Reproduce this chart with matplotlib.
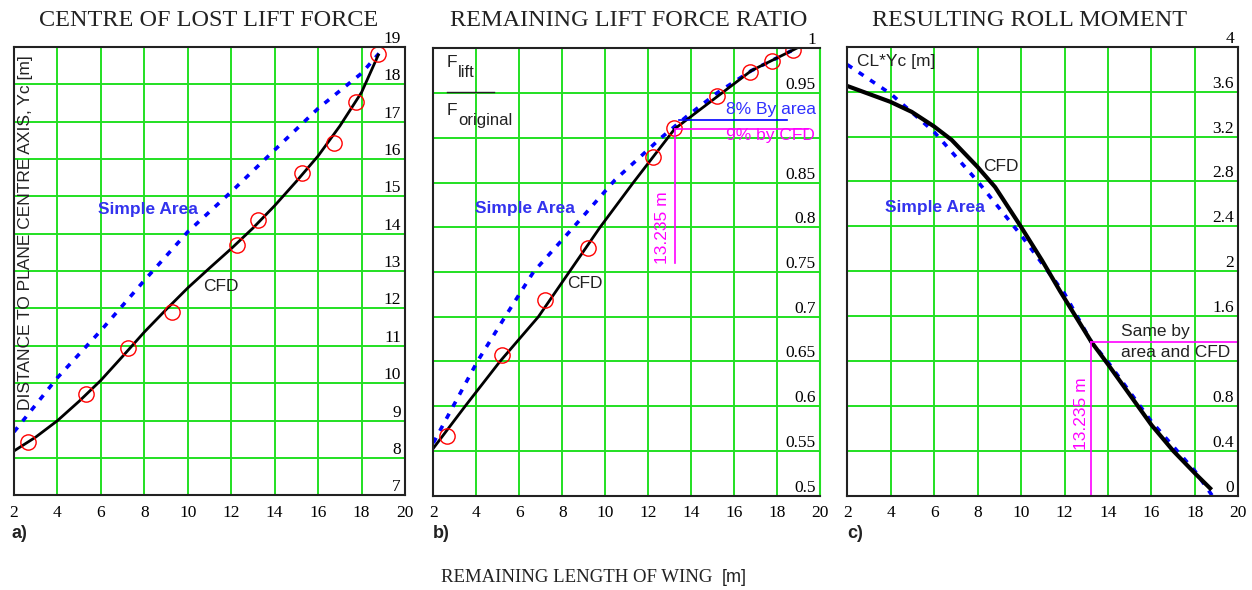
import matplotlib
matplotlib.use('Agg')
import matplotlib.pyplot as plt

# panel a) centre of lost lift force
a_cfd_x = [2, 3, 4, 5, 6, 7, 8, 9, 10, 11, 12, 13, 14, 15, 16, 17, 18, 18.77]
a_cfd_y = [8.19, 8.56, 9.0, 9.52, 10.08, 10.72, 11.37, 11.97, 12.55, 13.08, 13.6,
           14.15, 14.75, 15.4, 16.08, 16.88, 17.78, 18.78]
a_area_x = [2, 4, 6, 8, 10, 12, 14, 16, 18, 18.8]
a_area_y = [8.7, 10.15, 11.41, 12.75, 14.05, 15.12, 16.24, 17.35, 18.29, 18.82]
a_pts_x = [2.66, 5.30, 7.24, 9.28, 12.25, 13.25, 15.27, 16.75, 17.73, 18.77]
a_pts_y = [8.43, 9.72, 10.93, 11.9, 13.70, 14.37, 15.63, 16.43, 17.53, 18.8]
a_yticks = [7, 8, 9, 10, 11, 12, 13, 14, 15, 16, 17, 18, 19]

# panel b) remaining lift force ratio
b_cfd_x = [2, 3.48, 5.1, 6.89, 9.76, 11.31, 13.235, 15.43, 16.8, 18.9]
b_cfd_y = [0.553, 0.6, 0.65, 0.7, 0.8, 0.85, 0.91, 0.95, 0.975, 1.0]
b_area_x = [2, 4.05, 5.34, 6.66, 8.52, 10.46, 12.6, 13.8, 15.2, 16.8, 18.9]
b_area_y = [0.559, 0.65, 0.7, 0.75, 0.8, 0.853, 0.9, 0.924, 0.95, 0.975, 1.0]
b_pts_x = [2.62, 5.21, 7.2, 9.22, 12.24, 13.21, 15.19, 16.74, 17.75, 18.73]
b_pts_y = [0.567, 0.657, 0.719, 0.777, 0.879, 0.911, 0.947, 0.974, 0.986, 0.998]
b_yticks = [0.5, 0.55, 0.6, 0.65, 0.7, 0.75, 0.8, 0.85, 0.9, 0.95, 1.0]
b_ylabels = ['0.5', '0.55', '0.6', '0.65', '0.7', '0.75', '0.8', '0.85', '', '0.95', '1']

# panel c) resulting roll moment
c_cfd_x = [2, 3.97, 4.96, 5.99, 6.8, 7.99, 8.8, 9.98, 10.95, 11.8, 13.235, 14, 15, 16, 17, 18, 18.7]
c_cfd_y = [3.65, 3.51, 3.42, 3.29, 3.17, 2.93, 2.75, 2.40, 2.10, 1.82, 1.37, 1.17, 0.9,
           0.63, 0.4, 0.2, 0.066]
c_area_x = [2, 4, 6, 8, 10, 12, 13.235, 14, 16, 18, 18.8]
c_area_y = [3.84, 3.58, 3.24, 2.80, 2.32, 1.80, 1.37, 1.19, 0.66, 0.22, 0.0]
c_yticks = [0, 0.4, 0.8, 1.2, 1.6, 2.0, 2.4, 2.8, 3.2, 3.6, 4.0]
c_ylabels = ['0', '0.4', '0.8', '', '1.6', '2', '2.4', '2.8', '3.2', '3.6', '4']

x_cut = 13.235
b_area_cut = 0.92
b_cfd_cut = 0.91
c_cut = 1.37

xticks = [2, 4, 6, 8, 10, 12, 14, 16, 18, 20]

GREEN = '#22e022'
BLUE = '#0000ff'
MAG = '#ff00ff'
INK = '#222222'
SERIF = 'Liberation Serif'
SANS = 'Liberation Sans'

fig = plt.figure(figsize=(12.52, 5.90), dpi=100)
ax_a = fig.add_axes([0.0112, 0.1603, 0.3123, 0.7605])
ax_b = fig.add_axes([0.3461, 0.1598, 0.3089, 0.7583])
ax_c = fig.add_axes([0.6768, 0.1598, 0.3123, 0.7610])


def setup(ax, ylim, yticks, ylabels):
    ax.set_xlim(2, 20)
    ax.set_ylim(*ylim)
    ax.set_xticks(xticks)
    ax.set_xticklabels([str(t) for t in xticks], fontfamily=SERIF, fontsize=12.5)
    ax.set_yticks(yticks)
    ax.set_yticklabels(ylabels, fontfamily=SERIF, fontsize=12.5)
    ax.yaxis.set_ticks_position('right')
    ax.tick_params(axis='y', length=0, pad=-3)
    ax.tick_params(axis='x', length=0, pad=7)
    for lab in ax.get_yticklabels():
        lab.set_ha('right')
        lab.set_va('bottom')
    ax.grid(True, color=GREEN, lw=1.4)
    ax.set_axisbelow(True)
    for s in ax.spines.values():
        s.set_linewidth(1.5)
        s.set_color(INK)


setup(ax_a, (7, 19), a_yticks, [str(t) for t in a_yticks])
setup(ax_b, (0.5, 1.0), b_yticks, b_ylabels)
setup(ax_c, (0, 4), c_yticks, c_ylabels)
ax_b.spines['right'].set_color(GREEN)

# a)
ax_a.plot(a_area_x, a_area_y, color=BLUE, lw=2.6, ls=(0, (1.6, 2.2)))
ax_a.plot(a_cfd_x, a_cfd_y, color='black', lw=2)
ax_a.plot(a_pts_x, a_pts_y, 'o', ms=11, mfc='none', mec='red', mew=1)
ax_a.text(5.85, 14.65, 'Simple Area', color='#3333ee', fontfamily=SANS,
          fontweight='bold', fontsize=12.5, va='center')
ax_a.text(10.7, 12.6, 'CFD', color=INK, fontfamily=SANS, fontsize=12.5, va='center')
ax_a.text(0.03, 0.585, 'DISTANCE TO PLANE CENTRE AXIS, Yc [m]', transform=ax_a.transAxes,
          rotation=90, ha='center', va='center', fontfamily=SANS, fontsize=12.5,
          color=INK)

# b)
ax_b.plot(b_area_x, b_area_y, color=BLUE, lw=2.6, ls=(0, (1.6, 2.2)))
ax_b.plot(b_cfd_x, b_cfd_y, color='black', lw=2)
ax_b.plot(b_pts_x, b_pts_y, 'o', ms=11, mfc='none', mec='red', mew=1)
ax_b.plot([13.44, 18.45], [b_area_cut, b_area_cut], color=BLUE, lw=1.2)
ax_b.plot([x_cut, 19.45], [b_cfd_cut, b_cfd_cut], color=MAG, lw=1.2)
ax_b.plot([x_cut, x_cut], [0.76, b_cfd_cut], color=MAG, lw=1.2)
ax_b.text(15.6, 0.923, '8% By area', color='#3030ff', fontfamily=SANS,
          fontsize=12.5, va='bottom')
ax_b.text(15.6, 0.903, '9% by CFD', color=MAG, fontfamily=SANS,
          fontsize=12.5, va='center')
ax_b.text(12.68, 0.80, '13.235 m', color=MAG, fontfamily=SANS, fontsize=12.5,
          rotation=90, ha='center', va='center')
ax_b.text(3.94, 0.821, 'Simple Area', color='#3333ee', fontfamily=SANS,
          fontweight='bold', fontsize=12.5, va='center')
ax_b.text(8.21, 0.737, 'CFD', color=INK, fontfamily=SANS, fontsize=12.5, va='center')
# F_lift / F_original fraction
ax_b.text(0.034, 0.968, 'F', transform=ax_b.transAxes, fontfamily=SANS,
          fontsize=12.5, va='center', color=INK)
ax_b.text(0.064, 0.945, 'lift', transform=ax_b.transAxes, fontfamily=SANS,
          fontsize=12, va='center', color=INK)
ax_b.plot([0.036, 0.157], [0.903, 0.903], transform=ax_b.transAxes, color=INK, lw=1)
ax_b.text(0.034, 0.862, 'F', transform=ax_b.transAxes, fontfamily=SANS,
          fontsize=12.5, va='center', color=INK)
ax_b.text(0.064, 0.838, 'original', transform=ax_b.transAxes, fontfamily=SANS,
          fontsize=12, va='center', color=INK)

# c)
ax_c.plot(c_area_x, c_area_y, color=BLUE, lw=2.6, ls=(0, (1.6, 2.2)))
ax_c.plot(c_cfd_x, c_cfd_y, color='black', lw=3)
ax_c.plot([x_cut, 20], [c_cut, c_cut], color=MAG, lw=1.2)
ax_c.plot([x_cut, x_cut], [0, c_cut], color=MAG, lw=1.2)
ax_c.text(12.79, 0.73, '13.235 m', color=MAG, fontfamily=SANS, fontsize=12.5,
          rotation=90, ha='center', va='center')
ax_c.text(14.6, 1.46, 'Same by', color=INK, fontfamily=SANS, fontsize=12.5, va='center')
ax_c.text(14.6, 1.28, 'area and CFD', color=INK, fontfamily=SANS, fontsize=12.5,
          va='center')
ax_c.text(8.26, 2.93, 'CFD', color=INK, fontfamily=SANS, fontsize=12.5, va='center')
ax_c.text(3.74, 2.57, 'Simple Area', color='#3333ee', fontfamily=SANS,
          fontweight='bold', fontsize=12.5, va='center')
ax_c.text(0.024, 0.967, 'CL*Yc [m]', transform=ax_c.transAxes, fontfamily=SANS,
          fontsize=12.5, va='center', color=INK)

# titles and labels
fig.text(0.167, 0.966, 'CENTRE OF LOST LIFT FORCE', ha='center', va='center',
         fontfamily=SERIF, fontsize=17.5, color=INK)
fig.text(0.5024, 0.966, 'REMAINING LIFT FORCE RATIO', ha='center', va='center',
         fontfamily=SERIF, fontsize=17.5, color=INK)
fig.text(0.8227, 0.966, 'RESULTING ROLL MOMENT', ha='center', va='center',
         fontfamily=SERIF, fontsize=17.5, color=INK)
for xp, lab in [(12, 'a)'), (433, 'b)'), (847, 'c)')]:
    fig.text(xp / 1252, 0.0966, lab, ha='left', va='center', fontfamily=SANS,
             fontsize=13, fontweight='bold', color=INK)
fig.text(712 / 1252, 0.022, 'REMAINING LENGTH OF WING', ha='right', va='center',
         fontfamily=SERIF, fontsize=13.5, color=INK)
fig.text(722 / 1252, 0.022, '[m]', ha='left', va='center',
         fontfamily=SANS, fontsize=13, color=INK)

fig.savefig('out.png', dpi=100)
